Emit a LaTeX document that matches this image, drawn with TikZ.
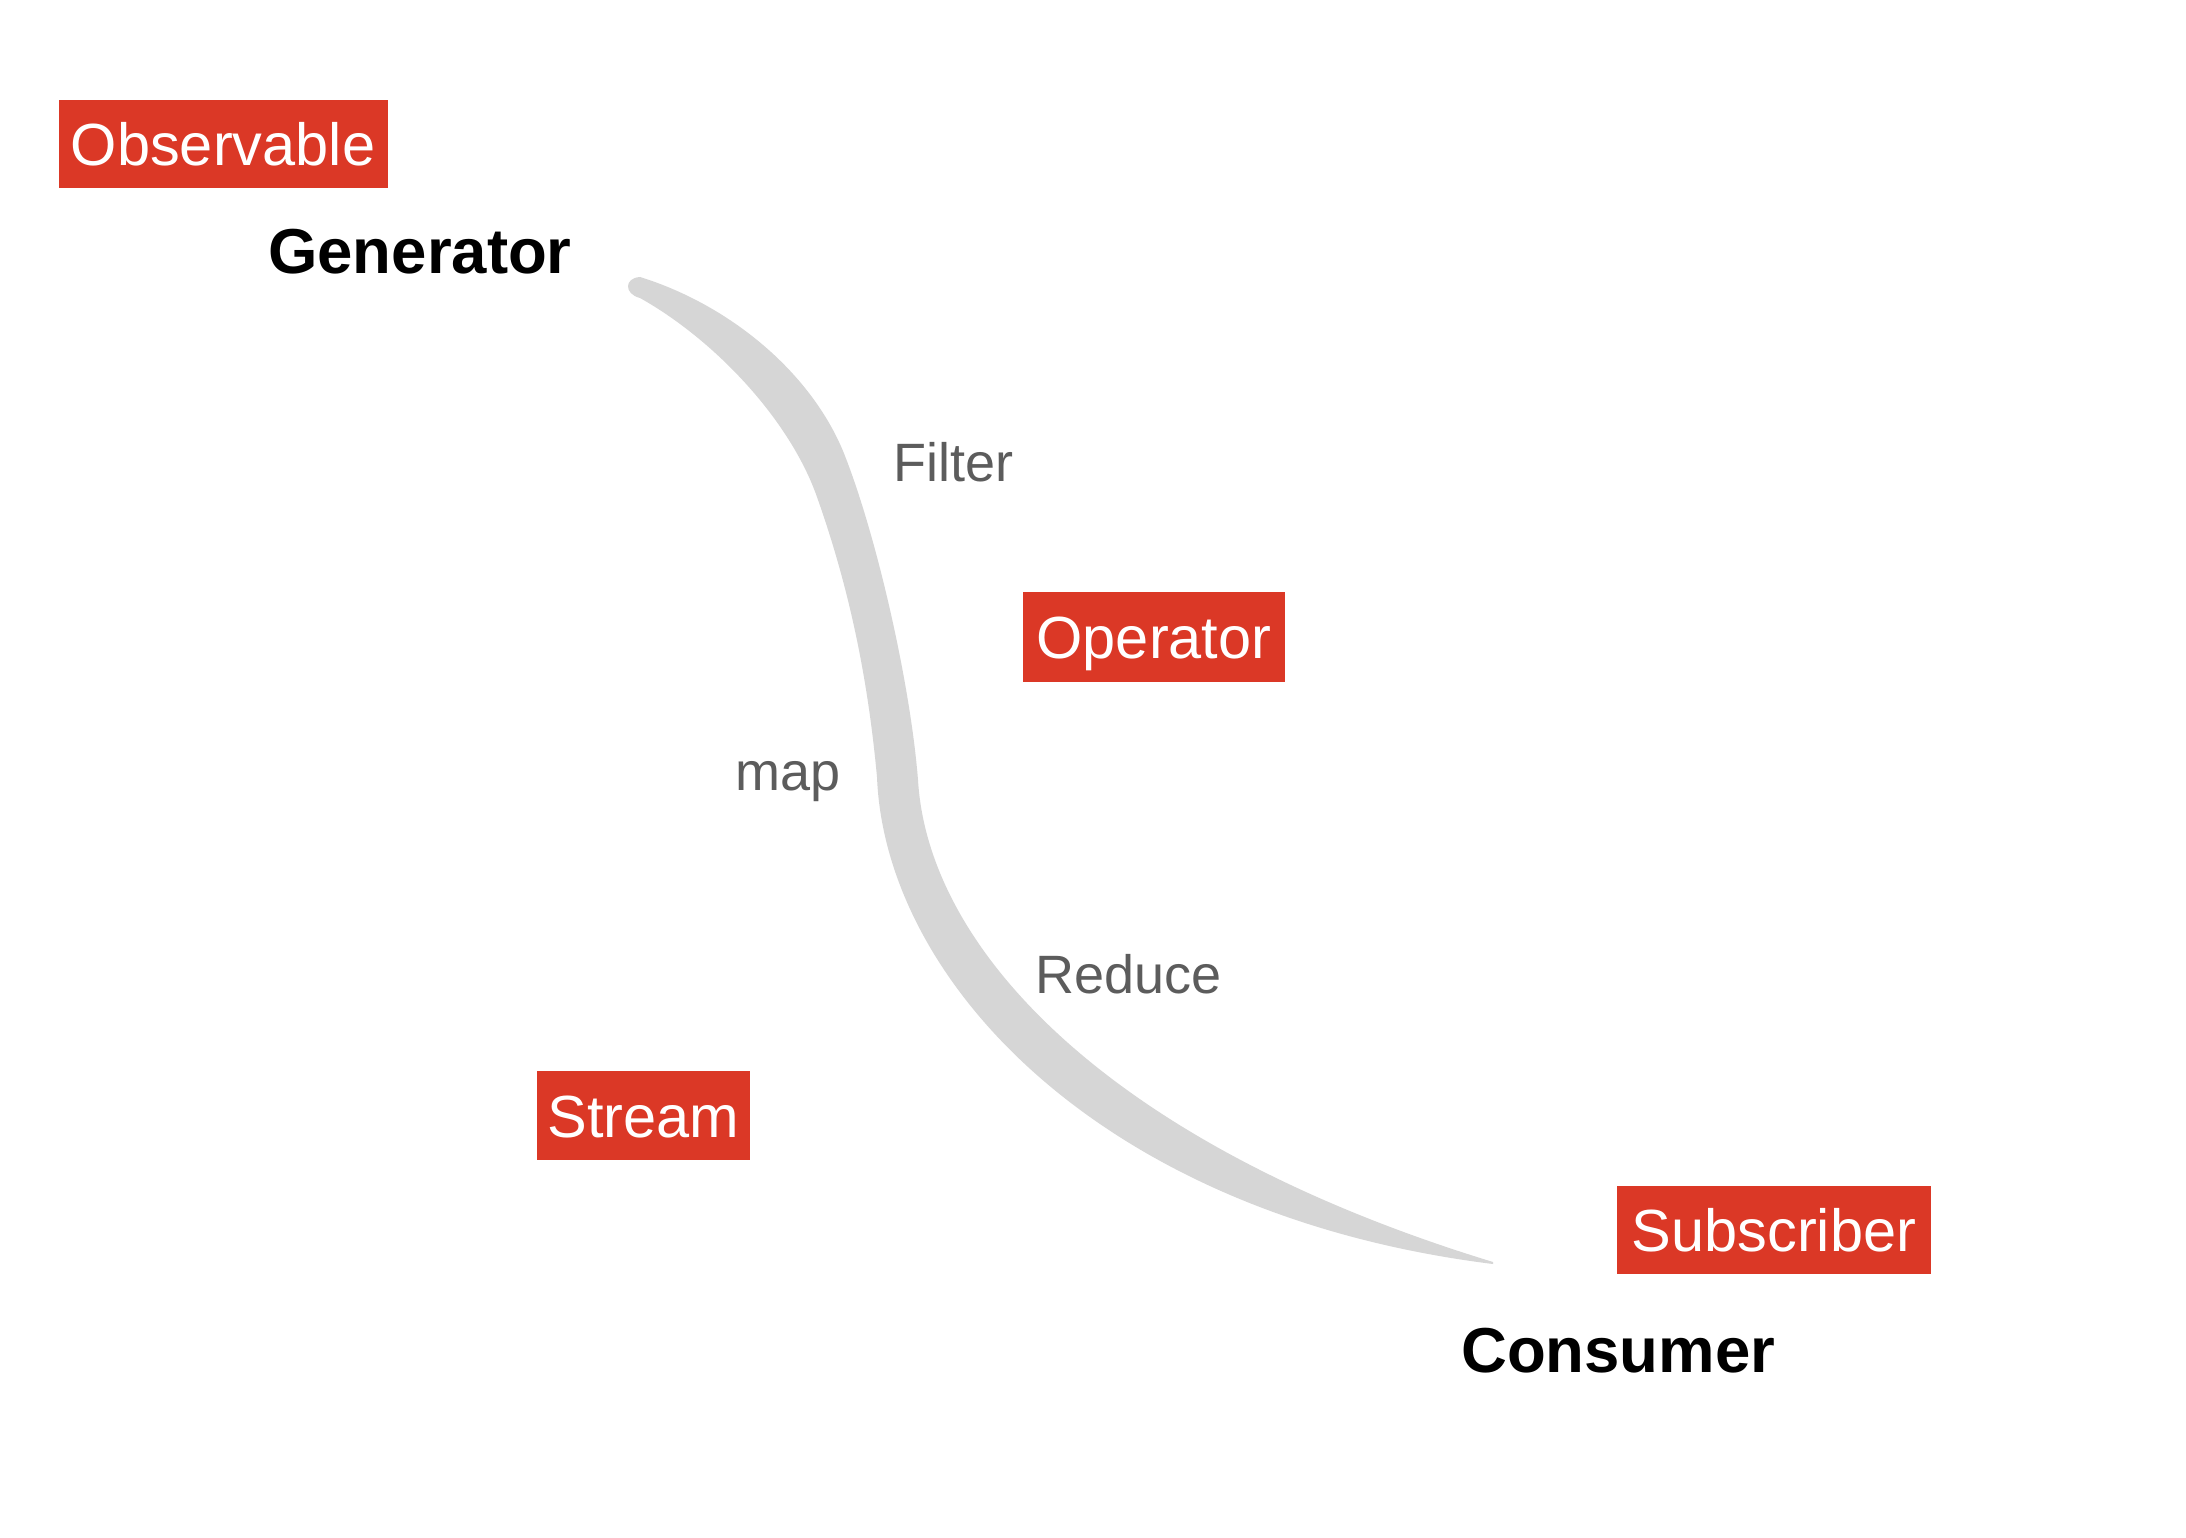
\documentclass[tikz,border=0pt]{standalone}
\usepackage{fontspec}
\setmainfont{Liberation Sans}
\definecolor{boxred}{RGB}{219,56,38}
\definecolor{brush}{RGB}{214,214,214}
\definecolor{lblgray}{RGB}{92,92,92}
\begin{document}
\begin{tikzpicture}[x=1pt,y=-1pt,
  redbox/.style={fill=boxred,text=white,inner sep=0pt,font=\fontsize{59.5}{60}\selectfont,text height=43pt,text depth=0pt},
  plainlbl/.style={anchor=base west,inner sep=0pt,text=lblgray,font=\fontsize{54}{55}\selectfont},
  boldlbl/.style={anchor=base west,inner sep=0pt,text=black,font=\fontsize{63.5}{64}\selectfont\bfseries}]
\useasboundingbox[fill=white] (0,0) rectangle (2186,1538);
% brush stroke
\fill[brush]
  (640,277) .. controls (730,305) and (810,372) .. (843,451)
  .. controls (875,530) and (910,680) .. (918,780)
  .. controls (928,950) and (1110,1145) .. (1493,1262)
  -- (1493,1264)
  .. controls (1100,1215) and (885,980) .. (877,777)
  .. controls (868,680) and (850,590) .. (817,497)
  .. controls (790,420) and (715,340) .. (640,298)
  .. controls (624,294) and (624,278) .. cycle;
% nodes
\node[redbox,minimum width=329pt,minimum height=88pt] (obs) at (223,144) {Observable};
\node[boldlbl] (gen) at (268,273) {Generator};
\node[plainlbl] (filter) at (893,481) {Filter};
\node[redbox,minimum width=262pt,minimum height=90pt] (op) at (1154,637) {Operator};
\node[plainlbl] (map) at (735,790) {map};
\node[plainlbl] (reduce) at (1035,993) {Reduce};
\node[redbox,minimum width=213pt,minimum height=89pt] (stream) at (643.5,1115.5) {Stream};
\node[redbox,minimum width=314pt,minimum height=88pt] (sub) at (1774,1230) {Subscriber};
\node[boldlbl] (cons) at (1461,1372) {Consumer};
\end{tikzpicture}
\end{document}
